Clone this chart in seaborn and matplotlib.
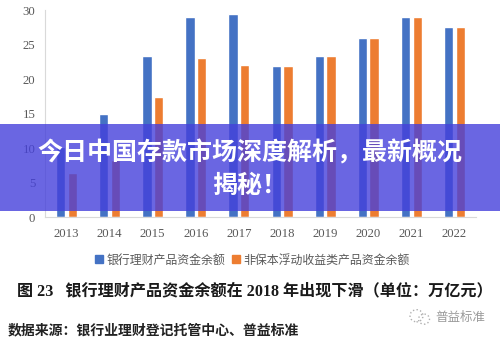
import matplotlib
matplotlib.use("Agg")
import matplotlib.pyplot as plt
from matplotlib.patches import Rectangle, Ellipse
import seaborn as sns
import pandas as pd

# Annual balances of bank wealth-management products (trillion yuan)
years = ["2013", "2014", "2015", "2016", "2017", "2018", "2019", "2020", "2021", "2022"]
total_balance = [10.2, 15.0, 23.4, 29.0, 29.5, 21.9, 23.4, 25.9, 29.0, 27.6]
nonguaranteed_balance = [6.4, 8.3, 17.4, 23.1, 22.0, 21.9, 23.4, 25.9, 29.0, 27.6]
series_names = ["银行理财产品资金余额", "非保本浮动收益类产品资金余额"]
series_colors = ["#4472C4", "#ED7D31"]
y_ticks = [0, 5, 10, 15, 20, 25, 30]

headline_lines = ["今日中国存款市场深度解析，最新概况", "揭秘！"]
caption = "图 23   银行理财产品资金余额在 2018 年出现下滑（单位：万亿元）"
source_note = "数据来源：银行业理财登记托管中心、普益标准"
brand = "普益标准"

df = pd.DataFrame({
    "year": years * 2,
    "value": total_balance + nonguaranteed_balance,
    "series": [series_names[0]] * len(years) + [series_names[1]] * len(years),
})

sns.set_theme(style="white")
plt.rcParams["font.family"] = ["Noto Sans CJK SC", "DejaVu Sans"]

fig = plt.figure(figsize=(5.0, 3.37), dpi=100)
ax = fig.add_axes([0.09, 0.356, 0.862, 0.614])

sns.barplot(data=df, x="year", y="value", hue="series",
            palette=series_colors, width=0.54, gap=0.2,
            saturation=1, ax=ax, legend=False)

ax.set_ylim(0, 30)
ax.set_xlim(-0.5, len(years) - 0.5)
ax.set_yticks(y_ticks)
ax.set_xlabel("")
ax.set_ylabel("")
for side in ["top", "right"]:
    ax.spines[side].set_visible(False)
for side in ["left", "bottom"]:
    ax.spines[side].set_color("#d9d9d9")
    ax.spines[side].set_linewidth(0.8)
ax.tick_params(axis="both", length=0, colors="#595959")
ax.tick_params(axis="y", pad=7)
ax.tick_params(axis="x", pad=8)
for lab in ax.get_xticklabels() + ax.get_yticklabels():
    lab.set_fontfamily(["Liberation Serif", "DejaVu Serif"])
    lab.set_fontsize(9.2)

# legend with square markers below the axis
handles = [Rectangle((0, 0), 1, 1, color=c) for c in series_colors]
fig.legend(handles, series_names, loc="center", bbox_to_anchor=(0.505, 0.228),
           ncol=2, frameon=False, fontsize=8.6, labelcolor="#595959",
           handlelength=0.65, handleheight=0.65, handletextpad=0.35,
           columnspacing=0.5)

# translucent headline band across the chart
fig.patches.append(Rectangle((0, 0.374), 1, 0.258, transform=fig.transFigure,
                             facecolor=(0.27, 0.25, 0.86), alpha=0.8,
                             edgecolor="none", zorder=5))
fig.text(0.5, 0.546, headline_lines[0], ha="center", va="center", color="white",
         fontsize=18, fontweight="bold", zorder=6)
fig.text(0.5, 0.448, headline_lines[1], ha="center", va="center", color="white",
         fontsize=18, fontweight="bold", zorder=6)

# figure caption and source line
fig.text(0.034, 0.134, caption, ha="left", va="center", color="#1a1a1a",
         fontsize=11.6, fontweight="bold",
         family=["Liberation Serif", "Noto Sans CJK SC"])
fig.text(0.016, 0.021, source_note, ha="left", va="center", color="#222222",
         fontsize=10, fontweight="bold")

# brand mark
fig.patches.append(Ellipse((0.833, 0.063), 0.026, 0.036, transform=fig.transFigure,
                           fill=False, edgecolor="#b0b0b0", linestyle=":", linewidth=1))
fig.patches.append(Ellipse((0.848, 0.053), 0.022, 0.03, transform=fig.transFigure,
                           fill=False, edgecolor="#b0b0b0", linestyle=":", linewidth=1))
fig.text(0.87, 0.059, brand, ha="left", va="center", color="#9a9a9a", fontsize=9)

fig.savefig("out.png", dpi=100)
